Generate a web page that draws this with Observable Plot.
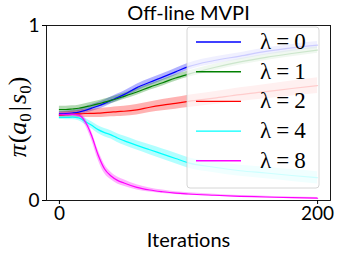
<!DOCTYPE html>
<html><head><meta charset="utf-8">
<script src="https://cdn.jsdelivr.net/npm/d3@7"></script>
<script src="https://cdn.jsdelivr.net/npm/@observablehq/plot@0.6"></script>
<style>body{margin:0;background:#fff}</style>
</head><body><div id="chart"></div>
<script>
const title = "Off-line MVPI";
const xLabel = "Iterations";
const seriesNames = ["λ = 0", "λ = 1", "λ = 2", "λ = 4", "λ = 8"];
const seriesColors = ["#0000ff", "#008000", "#ff0000", "#00ffff", "#ff00ff"];
const xTicks = [0, 200];
const yTicks = [0, 1];
const iters = [0, 5, 10, 15, 20, 25, 30, 35, 40, 45, 50, 60, 70, 80, 90, 100, 120, 140, 160, 180, 200];
const lam0 = [0.495, 0.497, 0.50, 0.505, 0.515, 0.528, 0.54, 0.555, 0.572, 0.588, 0.605, 0.645, 0.676, 0.705, 0.735, 0.765, 0.80, 0.825, 0.852, 0.872, 0.888];
const lam1 = [0.52, 0.52, 0.523, 0.527, 0.535, 0.543, 0.552, 0.562, 0.572, 0.583, 0.595, 0.62, 0.648, 0.673, 0.70, 0.722, 0.76, 0.792, 0.818, 0.84, 0.86];
const lam2 = [0.488, 0.49, 0.492, 0.495, 0.497, 0.498, 0.499, 0.502, 0.505, 0.508, 0.51, 0.518, 0.533, 0.545, 0.555, 0.566, 0.585, 0.605, 0.622, 0.64, 0.657];
const lam4 = [0.475, 0.475, 0.476, 0.472, 0.452, 0.43, 0.405, 0.388, 0.375, 0.357, 0.342, 0.315, 0.29, 0.265, 0.24, 0.215, 0.19, 0.17, 0.157, 0.143, 0.13];
const lam8 = [0.49, 0.492, 0.492, 0.488, 0.45, 0.37, 0.26, 0.18, 0.14, 0.115, 0.1, 0.075, 0.06, 0.05, 0.042, 0.037, 0.03, 0.024, 0.02, 0.016, 0.013];
const spread0 = [0.015, 0.015, 0.015, 0.017, 0.018, 0.02, 0.02, 0.02, 0.02, 0.02, 0.02, 0.02, 0.02, 0.02, 0.02, 0.02, 0.02, 0.02, 0.02, 0.02, 0.02];
const spread1 = [0.018, 0.018, 0.018, 0.018, 0.018, 0.018, 0.018, 0.018, 0.018, 0.018, 0.018, 0.018, 0.018, 0.018, 0.018, 0.018, 0.018, 0.018, 0.018, 0.018, 0.018];
const spread2 = [0.015, 0.017, 0.018, 0.02, 0.022, 0.024, 0.025, 0.026, 0.027, 0.028, 0.028, 0.03, 0.03, 0.032, 0.033, 0.035, 0.037, 0.039, 0.041, 0.043, 0.045];
const spread4 = [0.012, 0.013, 0.014, 0.016, 0.018, 0.02, 0.022, 0.023, 0.024, 0.025, 0.026, 0.027, 0.028, 0.029, 0.03, 0.03, 0.031, 0.032, 0.033, 0.034, 0.035];
const spread8 = [0.01, 0.01, 0.01, 0.012, 0.02, 0.025, 0.028, 0.026, 0.022, 0.02, 0.018, 0.015, 0.012, 0.01, 0.008, 0.007, 0.006, 0.005, 0.005, 0.004, 0.004];

const means = [lam0, lam1, lam2, lam4, lam8];
const spreads = [spread0, spread1, spread2, spread4, spread8];
const rows = [];
seriesNames.forEach((s, k) => iters.forEach((it, i) => rows.push({
  series: s, it, mean: means[k][i], lo: means[k][i] - spreads[k][i], hi: means[k][i] + spreads[k][i]
})));

const W = 339, H = 254, mL = 46, mR = 9, mT = 25, mB = 54;
const font = "Lato, 'DejaVu Sans', sans-serif";
const serif = "'Liberation Serif', 'DejaVu Serif', serif";
const chart = Plot.plot({
  width: W, height: H,
  marginLeft: mL, marginRight: mR, marginTop: mT, marginBottom: mB,
  style: {fontFamily: font, fontSize: "19px", color: "#000", background: "#fff"},
  x: {domain: [-10, 210], ticks: xTicks, tickSize: 4, tickPadding: 2, tickFormat: d3.format("d"), label: null},
  y: {domain: [0, 1], ticks: yTicks, tickSize: 4, tickPadding: 3, tickFormat: d3.format("d"), label: null},
  color: {domain: seriesNames, range: seriesColors},
  marks: [
    Plot.areaY(rows, {x: "it", y1: "lo", y2: "hi", z: "series", fill: "series", fillOpacity: 0.3, curve: "monotone-x"}),
    Plot.lineY(rows, {x: "it", y: "mean", z: "series", stroke: "series", strokeWidth: 1.2, curve: "monotone-x"}),
    Plot.frame({stroke: "#000", strokeWidth: 0.9}),
    Plot.text([title], {frameAnchor: "top", dy: -6, lineAnchor: "bottom", fontSize: 20, fontFamily: font, fill: "#000"}),
    Plot.text([xLabel], {frameAnchor: "bottom", dy: 46, lineAnchor: "bottom", fontSize: 20, fontFamily: font, fill: "#000"})
  ]
});
document.getElementById("chart").append(chart);

// legend (matplotlib-style, semi-opaque box over the lines)
const svg = d3.select(chart);
const lg = svg.append("g");
lg.append("rect").attr("x", 187).attr("y", 27).attr("width", 132).attr("height", 161)
  .attr("rx", 3).attr("fill", "#fff").attr("fill-opacity", 0.8).attr("stroke", "#cccccc").attr("stroke-width", 0.8);
seriesNames.forEach((s, k) => {
  const cy = 42 + k * 29.7;
  lg.append("line").attr("x1", 196).attr("x2", 241).attr("y1", cy).attr("y2", cy)
    .attr("stroke", seriesColors[k]).attr("stroke-width", 1.4);
  const parts = s.split(" = ");
  const t = lg.append("text").attr("x", 260).attr("y", cy + 7)
    .style("font-family", serif).style("font-size", "23px").style("text-anchor", "start").attr("fill", "#000");
  t.append("tspan").text(parts[0]);
  t.append("tspan").attr("dx", 5).text("=");
  t.append("tspan").attr("dx", 5).text(parts[1]);
});

// y axis label π(a0|s0)
const yl = svg.append("text").attr("transform", "translate(26,117) rotate(-90)")
  .style("text-anchor", "middle").style("font-family", serif)
  .style("font-size", "26px").attr("fill", "#000");
yl.append("tspan").style("font-style", "italic").text("π");
yl.append("tspan").attr("dx", 1).text("(");
yl.append("tspan").style("font-style", "italic").text("a");
yl.append("tspan").style("font-size", "17px").attr("dy", 5).text("0");
yl.append("tspan").attr("dy", -5).attr("dx", 2).text("|");
yl.append("tspan").attr("dx", 2).style("font-style", "italic").text("s");
yl.append("tspan").style("font-size", "17px").attr("dy", 5).text("0");
yl.append("tspan").attr("dy", -5).text(")");
</script>
</body></html>
